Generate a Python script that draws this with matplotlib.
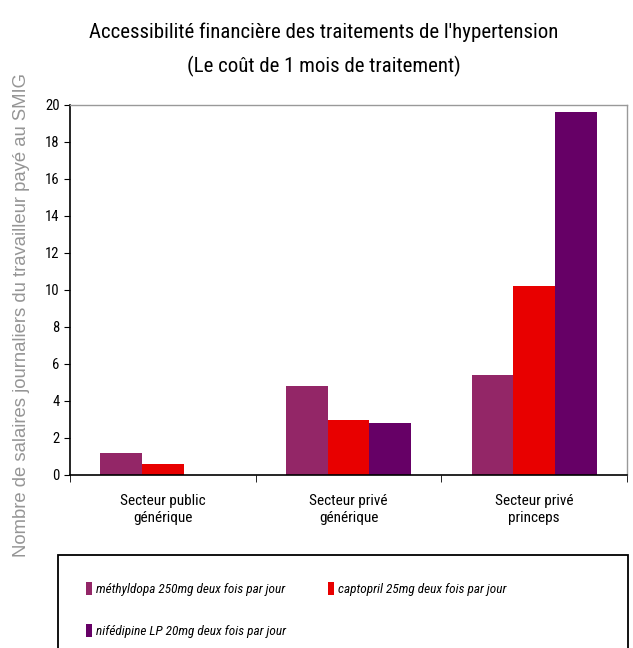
import numpy as np
import matplotlib.pyplot as plt
from matplotlib.patches import Rectangle

categories = ['Secteur public\ngénérique', 'Secteur privé\ngénérique', 'Secteur privé\nprinceps']
series = ['méthyldopa 250mg deux fois par jour',
          'captopril 25mg deux fois par jour',
          'nifédipine LP 20mg deux fois par jour']
methyldopa = [1.2, 4.8, 5.4]
captopril = [0.6, 2.95, 10.2]
nifedipine = [0.0, 2.8, 19.6]
colors = ['#932667', '#e80000', '#660066']

plt.rcParams['font.family'] = ['Roboto Condensed', 'DejaVu Sans']

fig = plt.figure(figsize=(6.33, 6.48), dpi=100)
ax = fig.add_axes([0.1106, 0.267, 0.88, 0.571])

x = np.arange(len(categories))
w = 0.225
bars = []
for i, (vals, c) in enumerate(zip([methyldopa, captopril, nifedipine], colors)):
    b = ax.bar(x + (i - 1) * w, vals, w, color=c, label=series[i])
    bars.append(b)

ax.set_xlim(-0.5, 2.5)
ax.set_ylim(0, 20)
ax.set_yticks(range(0, 21, 2))
ax.tick_params(axis='y', labelsize=10.5, length=4, direction='out')
ax.set_xticks(x)
ax.set_xticklabels(categories, fontsize=11)
ax.tick_params(axis='x', which='major', length=0, pad=14)
ax.set_xticks([-0.5, 0.5, 1.5, 2.5], minor=True)
ax.tick_params(axis='x', which='minor', length=5, direction='out')
for s in ['left', 'bottom']:
    ax.spines[s].set_color('black')
    ax.spines[s].set_linewidth(1.2)
for s in ['top', 'right']:
    ax.spines[s].set_color('#999999')
    ax.spines[s].set_linewidth(1.0)

fig.text(0.034, 0.514, 'Nombre de salaires journaliers du travailleur payé au SMIG',
         rotation=90, ha='center', va='center', fontsize=13.3, color='#959595',
         family=['Liberation Sans', 'DejaVu Sans'])

fig.text(0.511, 0.951, "Accessibilité financière des traitements de l'hypertension",
         ha='center', va='center', fontsize=15)
fig.text(0.511, 0.898, '(Le coût de 1 mois de traitement)',
         ha='center', va='center', fontsize=15)

fig.patches.append(Rectangle((58 / 633, -0.05), 570 / 633, 1 - 555 / 648 + 0.05,
                             transform=fig.transFigure, fill=False,
                             edgecolor='black', linewidth=1.3))
leg = fig.legend([bars[0], bars[2], bars[1]], [series[0], series[2], series[1]],
                 ncol=2, frameon=False, loc='upper left',
                 bbox_to_anchor=(74 / 633, 1 - 570 / 648),
                 handlelength=0.45, handleheight=1.2, handletextpad=0.3,
                 columnspacing=3.2, labelspacing=2.1,
                 prop={'style': 'italic', 'size': 9.5})

fig.savefig('out.png', dpi=100)
